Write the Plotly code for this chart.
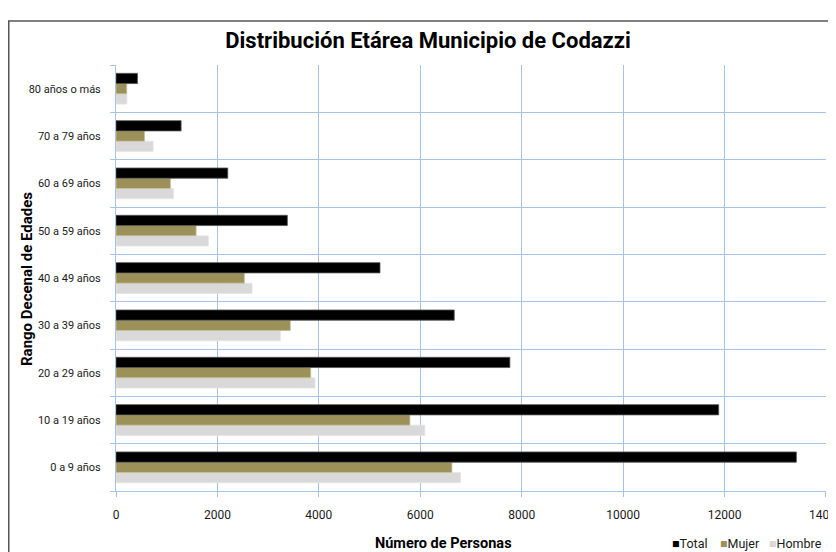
import plotly.graph_objects as go

categories = ["0 a 9 años", "10 a 19 años", "20 a 29 años", "30 a 39 años", "40 a 49 años",
              "50 a 59 años", "60 a 69 años", "70 a 79 años", "80 años o más"]
total = [13417, 11885, 7767, 6670, 5206, 3379, 2204, 1284, 424]
mujer = [6624, 5796, 3840, 3438, 2531, 1580, 1074, 561, 212]
hombre = [6795, 6091, 3924, 3241, 2683, 1822, 1133, 733, 215]
x_ticks = [0, 2000, 4000, 6000, 8000, 10000, 12000, 14000]
series_names = ["Total", "Mujer", "Hombre"]
series_colors = ["#000000", "#9b9159", "#d9d9d9"]
series_edges = ["#555555", "#c8c2a0", "#e6e6e6"]

FONT = "Roboto, Liberation Sans, sans-serif"
GRID = "#a7c2e3"
ypos = list(range(len(categories)))
values = {"Total": total, "Mujer": mujer, "Hombre": hombre}

fig = go.Figure()
for name, col, edge in reversed(list(zip(series_names, series_colors, series_edges))):
    fig.add_trace(go.Bar(y=ypos, x=values[name], name=name, orientation="h",
                         marker=dict(color=col, line=dict(color=edge, width=0.8))))

# the page body adds an 8px offset, so the figure is sized to the visible area
OFF = 8
W, H = 836 - OFF, 552 - OFF
L, R, T, B = 116 - OFF, 10, 65 - OFF, 61
pw, ph = W - L - R, H - T - B


def px_x(x):  # window pixel -> paper x
    return (x - OFF - L) / pw


def px_y(y):  # window pixel -> paper y
    return (H - B - (y - OFF)) / ph


fig.update_layout(
    width=W, height=H,
    margin=dict(l=L, r=R, t=T, b=B, autoexpand=False),
    paper_bgcolor="white", plot_bgcolor="white",
    barmode="group", bargap=0.35, bargroupgap=0,
    font=dict(family=FONT, size=12, color="#1a1a1a"),
    title=dict(text="<b>Distribución Etárea Municipio de Codazzi</b>",
               x=px_x(428), xref="paper", xanchor="center",
               y=1 - (40 - OFF) / H, yanchor="middle",
               font=dict(family=FONT, size=22, color="#000000")),
    showlegend=False,
    xaxis=dict(range=[0, 14001], tickvals=x_ticks, ticktext=[str(v) for v in x_ticks],
               showgrid=True, gridcolor=GRID, gridwidth=1,
               showline=True, linecolor=GRID, linewidth=1,
               ticks="outside", ticklen=5, tickcolor=GRID, ticklabelstandoff=8,
               ticklabeloverflow="allow",
               zeroline=False, tickfont=dict(size=12), automargin=False),
    yaxis=dict(range=[-0.5, len(categories) - 0.499], tickvals=ypos, ticktext=categories,
               showgrid=False, zeroline=False,
               showline=True, linecolor=GRID, linewidth=1,
               ticks="", ticklabelstandoff=12, tickfont=dict(size=11), automargin=False,
               minor=dict(tick0=0.5, dtick=1, showgrid=True, gridcolor=GRID, gridwidth=1,
                          ticks="outside", ticklen=5, tickcolor=GRID)),
)

# axis titles
fig.add_annotation(xref="paper", yref="paper", x=px_x(443), y=px_y(543),
                   xanchor="center", yanchor="middle", showarrow=False,
                   text="<b>Número de Personas</b>",
                   font=dict(family=FONT, size=14.5, color="#000000"))
fig.add_annotation(xref="paper", yref="paper", x=px_x(27), y=px_y(279),
                   xanchor="center", yanchor="middle", showarrow=False, textangle=-90,
                   text="<b>Rango Decenal de Edades</b>",
                   font=dict(family=FONT, size=15, color="#000000"))

# legend drawn as compact swatch+label entries at bottom right
legend_x = [670, 718, 767]
for name, col, lx in zip(series_names, series_colors, legend_x):
    fig.add_annotation(xref="paper", yref="paper", x=px_x(lx), y=px_y(543),
                       xanchor="left", yanchor="middle", showarrow=False,
                       text=f"<span style='color:{col}'>■</span>{name}",
                       font=dict(family=FONT, size=12.5, color="#1a1a1a"))

# chart frame (top/left edges visible, rest extends beyond window)
fig.add_shape(type="rect", xref="paper", yref="paper",
              x0=(0.75 - L) / pw, x1=(W + 20 - L) / pw,
              y0=-(B + 20) / ph, y1=px_y(21),
              line=dict(color="#555555", width=1.5), fillcolor="rgba(0,0,0,0)", layer="below")

fig.write_html("out.html")
